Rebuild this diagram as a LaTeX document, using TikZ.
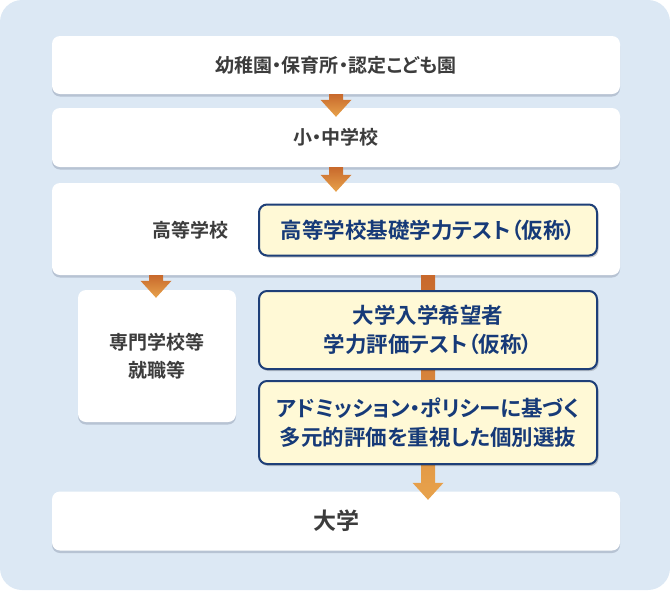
\documentclass[tikz,border=0pt]{standalone}
\usepackage{fontspec}
\newfontfamily\jpfont{Noto Sans CJK JP}[BoldFont={Noto Sans CJK JP Bold}, RawFeature={+palt}]
\usetikzlibrary{calc,shadows}
\definecolor{bgblue}{HTML}{DCE8F4}
\definecolor{boxshadow}{HTML}{B7C3D3}
\definecolor{textgray}{HTML}{3C3C3C}
\definecolor{testfill}{HTML}{FFF9D6}
\definecolor{testline}{HTML}{1E3F78}
\definecolor{testtext}{HTML}{163A78}
\definecolor{arrowtop}{HTML}{C8692C}
\definecolor{arrowbottom}{HTML}{E8A34C}
\tikzset{
  stagebox/.style = {
    rectangle, rounded corners=8pt, fill=white, inner sep=0pt,
    drop shadow={shadow xshift=0pt, shadow yshift=-2.5pt, fill=boxshadow, opacity=1},
    text=textgray, align=center,
    font=\jpfont\bfseries\fontsize{19}{28}\selectfont
  },
  testbox/.style = {
    rectangle, rounded corners=8pt, fill=testfill, draw=testline,
    line width=2pt, inner sep=0pt, minimum width=338pt,
    drop shadow={shadow xshift=1.5pt, shadow yshift=-2pt, fill=black, opacity=.2},
    text=testtext, align=center,
    font=\jpfont\bfseries\fontsize{21.5}{29}\selectfont
  }
}
% block arrow: #1 start, #2 tip
\newcommand{\flowarrow}[2]{%
  \fill[white, opacity=.55, shift={(2,2)}]
    ($(#1)+(-7,0)$) -- ($(#2)+(-7,-17)$) -- ($(#2)+(-15.5,-17)$) -- (#2)
    -- ($(#2)+(15.5,-17)$) -- ($(#2)+(7,-17)$) -- ($(#1)+(7,0)$) -- cycle;
  \shade[top color=arrowtop, bottom color=arrowbottom]
    ($(#1)+(-7,0)$) -- ($(#2)+(-7,-17)$) -- ($(#2)+(-15.5,-17)$) -- (#2)
    -- ($(#2)+(15.5,-17)$) -- ($(#2)+(7,-17)$) -- ($(#1)+(7,0)$) -- cycle;
}
\begin{document}
\begin{tikzpicture}[x=1pt,y=-1pt]
  \useasboundingbox (0,0) rectangle (670,590);
  \fill[bgblue, rounded corners=22pt] (0,0) rectangle (670,590);
  % stages
  \node[stagebox, minimum width=568pt, minimum height=58pt] (kinder) at (336,65) {幼稚園・保育所・認定こども園};
  \node[stagebox, minimum width=568pt, minimum height=59pt] (school) at (336,137.5) {小・中学校};
  \node[stagebox, minimum width=568pt, minimum height=92pt] (high) at (336,229) {};
  \node[text=textgray, font=\jpfont\bfseries\fontsize{19}{28}\selectfont] (highlabel) at (190,230) {高等学校};
  \node[stagebox, minimum width=158pt, minimum height=132pt] (senmon) at (157,356) {専門学校等\\就職等};
  \node[stagebox, minimum width=568pt, minimum height=59pt, font=\jpfont\bfseries\fontsize{23}{28}\selectfont] (univ) at (336,521) {大学};
  \node[testbox, minimum height=51pt] (basic) at (428,230) {高等学校基礎学力テスト（仮称）};
  % arrows
  \coordinate (tipA) at ($(school.north)+(0,9)$);
  \coordinate (tipB) at ($(high.north)+(0,9)$);
  \coordinate (tipC) at ($(senmon.north -| 156,0)+(0,8)$);
  \coordinate (tipD) at ($(univ.north -| basic.south)+(0,8.5)$);
  \flowarrow{kinder.south}{tipA}
  \flowarrow{school.south}{tipB}
  \flowarrow{high.south -| tipC}{tipC}
  \flowarrow{high.south -| tipD}{tipD}
  % tests
  \node[testbox, minimum height=78pt] (exam) at (428,330) {大学入学希望者\\学力評価テスト（仮称）};
  \node[testbox, minimum height=83pt] (select) at (428,422.5) {アドミッション・ポリシーに基づく\\多元的評価を重視した個別選抜};
\end{tikzpicture}
\end{document}
